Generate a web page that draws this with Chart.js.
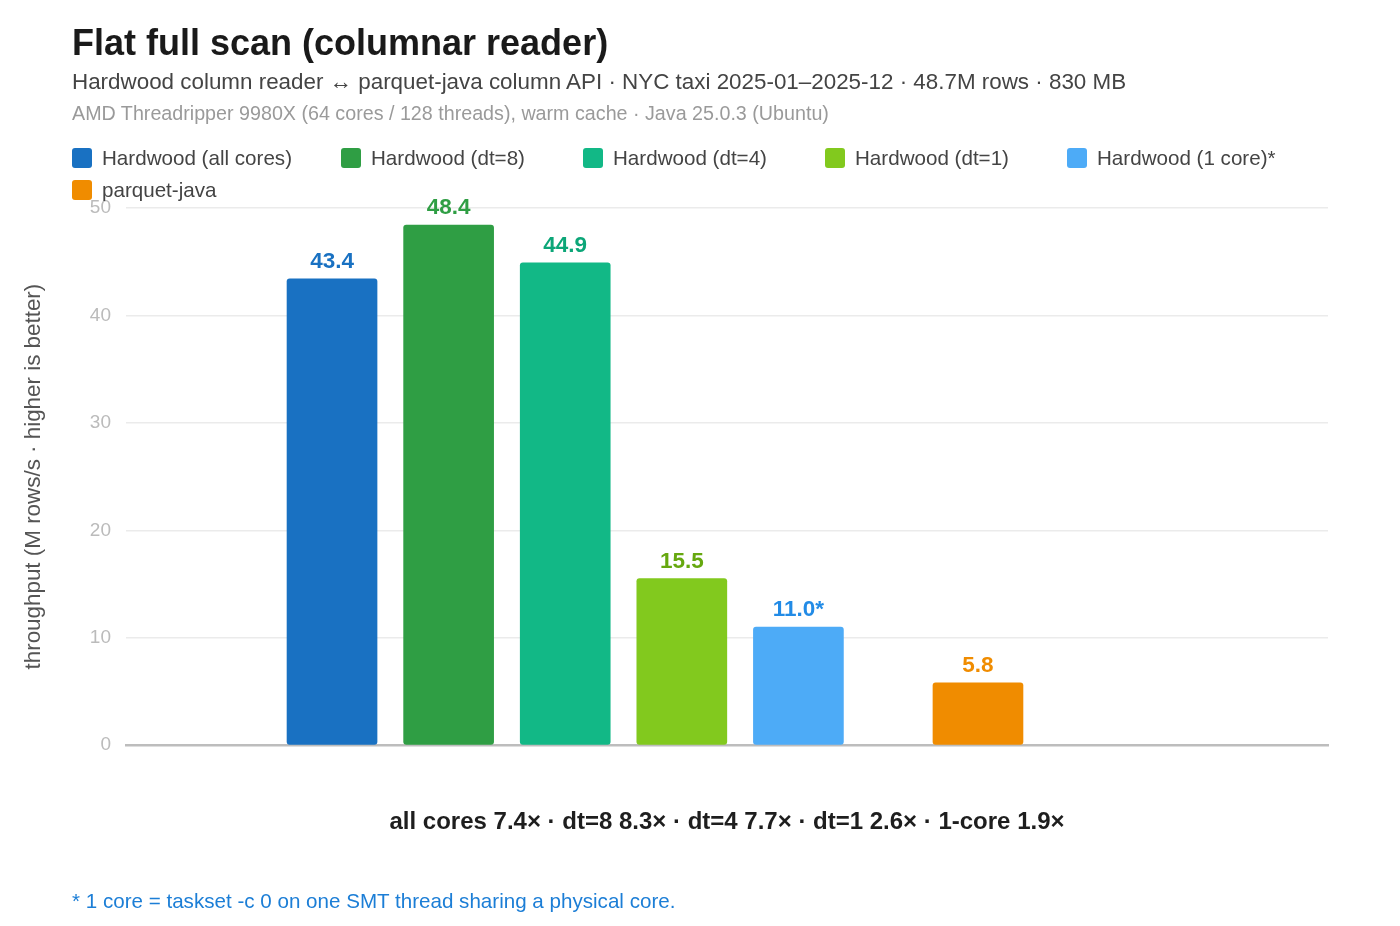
<!DOCTYPE html>
<html>
<head>
<meta charset="utf-8">
<script src="https://cdn.jsdelivr.net/npm/chart.js@4.4.1/dist/chart.umd.min.js"></script>
<style>
  body { margin: 0; background: #fff; font-family: "Liberation Sans", Arial, sans-serif; }
  #page { position: relative; width: 1400px; height: 926px; overflow: hidden; }
  #chart { position: absolute; left: 0; top: 0; }
  .txt { position: absolute; left: 72px; white-space: nowrap; line-height: 1; }
  #title { top: 25px; font-size: 36px; font-weight: bold; color: #1a1a1a; }
  #sub1 { top: 71px; font-size: 22.4px; color: #444; }
  #sub2 { top: 104px; font-size: 19.7px; color: #9a9a9a; }
  #legend { position: absolute; left: 72px; top: 148px; width: 1300px; display: flex; flex-wrap: wrap; row-gap: 12px; }
  .item { display: flex; align-items: center; min-width: 242px; padding-right: 49px; box-sizing: border-box; font-size: 20.6px; line-height: 20px; color: #444; white-space: nowrap; }
  .box { width: 20px; height: 20px; border-radius: 3px; margin-right: 10px; flex: none; }
  #note { top: 891px; font-size: 20.6px; color: #1c7ed6; }
</style>
</head>
<body>
<div id="page">
  <canvas id="chart" width="1400" height="926"></canvas>
  <div class="txt" id="title">Flat full scan (columnar reader)</div>
  <div class="txt" id="sub1">Hardwood column reader ↔ parquet-java column API · NYC taxi 2025-01–2025-12 · 48.7M rows · 830 MB</div>
  <div class="txt" id="sub2">AMD Threadripper 9980X (64 cores / 128 threads), warm cache · Java 25.0.3 (Ubuntu)</div>
  <div id="legend"></div>
  <div class="txt" id="note">* 1 core = taskset -c 0 on one SMT thread sharing a physical core.</div>
</div>
<script>
Chart.defaults.font.family = '"Liberation Sans", Arial, sans-serif';
Chart.defaults.color = '#555';

// data
const series = ['Hardwood (all cores)', 'Hardwood (dt=8)', 'Hardwood (dt=4)', 'Hardwood (dt=1)', 'Hardwood (1 core)*', 'parquet-java'];
const engine = ['Hardwood', 'Hardwood', 'Hardwood', 'Hardwood', 'Hardwood', 'parquet-java'];
const throughput = [43.4, 48.4, 44.9, 15.5, 11.0, 5.8];
const valueLabels = ['43.4', '48.4', '44.9', '15.5', '11.0*', '5.8'];
const speedupNames = ['all cores', 'dt=8', 'dt=4', 'dt=1', '1-core'];
const speedups = ['7.4', '8.3', '7.7', '2.6', '1.9'];
const yTicks = [0, 10, 20, 30, 40, 50];

const barColors = ['#1971c2', '#2f9e44', '#12b886', '#82c91e', '#4dabf7', '#f08c00'];
const labelColors = ['#1971c2', '#2f9e44', '#0ca678', '#66a80f', '#228be6', '#f08c00'];

// slot index per bar, extra gap where the engine changes
let slot = 0;
const slots = throughput.map((v, i) => {
  if (i > 0) slot += engine[i] !== engine[i - 1] ? 1.54 : 1;
  return slot;
});

const legend = document.getElementById('legend');
series.forEach((name, i) => {
  const it = document.createElement('div');
  it.className = 'item';
  it.innerHTML = '<span class="box" style="background:' + barColors[i] + '"></span>' + name;
  legend.appendChild(it);
});

const valuePlugin = {
  id: 'values',
  afterDatasetsDraw(chart) {
    const ctx = chart.ctx;
    ctx.save();
    ctx.font = 'bold 22.5px "Liberation Sans", Arial, sans-serif';
    ctx.textAlign = 'center';
    ctx.textBaseline = 'alphabetic';
    chart.getDatasetMeta(0).data.forEach((bar, i) => {
      ctx.fillStyle = labelColors[i];
      ctx.fillText(valueLabels[i], bar.x, bar.y - 11);
    });
    ctx.restore();
  }
};

new Chart(document.getElementById('chart'), {
  type: 'bar',
  data: {
    datasets: [{
      data: throughput.map((v, i) => ({ x: slots[i], y: v })),
      backgroundColor: barColors,
      barThickness: 90,
      borderRadius: 3,
      borderSkipped: false,
      grouped: false
    }]
  },
  options: {
    responsive: false, animation: false,
    layout: { padding: { top: 208, left: 16, right: 72, bottom: 84.8 } },
    plugins: { legend: { display: false }, tooltip: { enabled: false } },
    scales: {
      x: {
        type: 'linear', min: -1.767, max: 8.542, offset: false,
        ticks: { display: false },
        grid: { display: false },
        border: { display: true, color: '#bdbdbd', width: 2.5 },
        title: {
          display: true, color: '#1e1e1e',
          text: speedupNames.map((n, i) => n + ' ' + speedups[i] + '×').join(' · '),
          font: { size: 24, weight: 'bold' },
          padding: { top: 4, bottom: 4 }
        },
        afterFit(scale) { scale.height = 96; }
      },
      y: {
        min: 0, max: 50,
        afterBuildTicks(scale) { scale.ticks = yTicks.map(v => ({ value: v })); },
        ticks: { color: '#bbb', font: { size: 19 }, padding: 15 },
        grid: { color: '#ebebeb', lineWidth: 1.5, drawTicks: false },
        border: { display: false },
        title: {
          display: true, color: '#555',
          text: 'throughput (M rows/s · higher is better)',
          font: { size: 22.4 },
          padding: { top: 4, bottom: 4 }
        },
        afterFit(scale) { scale.width = 110; }
      }
    }
  },
  plugins: [valuePlugin]
});
</script>
</body>
</html>
